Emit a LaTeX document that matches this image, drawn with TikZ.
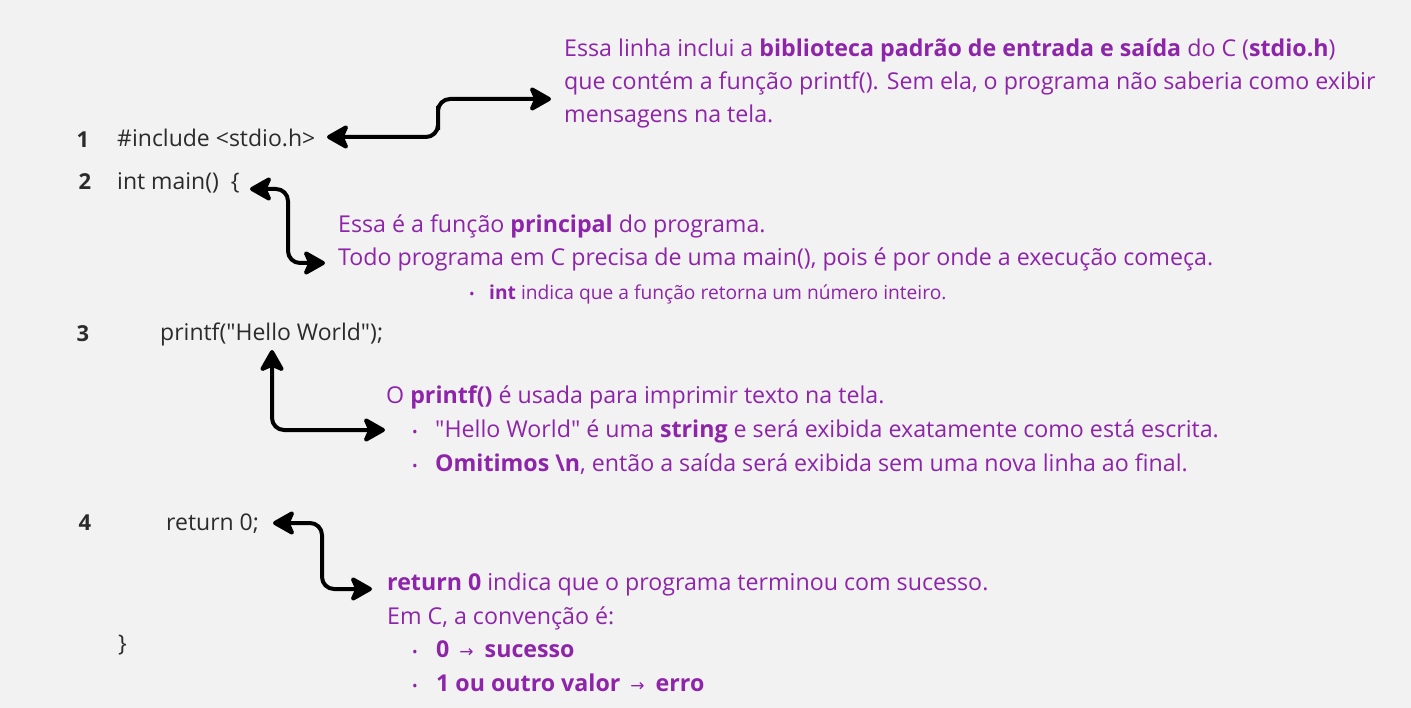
\documentclass[tikz,border=0pt]{standalone}
\usepackage{fontspec}
\setmainfont{Open Sans}[Ligatures=TeXOff]
\newfontfamily\symf{DejaVu Sans}
\usetikzlibrary{arrows.meta}
\definecolor{bg}{HTML}{F2F2F2}
\definecolor{pur}{HTML}{8E24AA}
\definecolor{codec}{HTML}{2B2B2B}
\newcommand{\rarr}{\hspace{4pt}{\symf\fontsize{17}{19}\selectfont\mdseries →}\hspace{5pt}}
\begin{document}
\begin{tikzpicture}[x=1pt,y=-1pt,
  num/.style={font=\bfseries\fontsize{22}{26}\selectfont, text=codec, anchor=base, inner sep=0pt},
  codetxt/.style={font=\fontsize{23}{27}\selectfont, text=codec, anchor=base west, inner sep=0pt},
  note/.style={font=\fontsize{23.2}{27}\selectfont, text=pur, anchor=base west, inner sep=0pt},
  small/.style={font=\fontsize{19.2}{22}\selectfont, text=pur, anchor=base west, inner sep=0pt},
  bul/.style={font=\fontsize{15}{17}\selectfont, text=pur, anchor=base, inner sep=0pt},
  arr/.style={line width=4pt, rounded corners=12pt, line cap=round,
    {Stealth[length=25pt,width=28pt,inset=6pt,round]}-{Stealth[length=25pt,width=28pt,inset=6pt,round]}}
]
\fill[bg] (0,0) rectangle (1411,708);
\useasboundingbox (0,0) rectangle (1411,708);

% code lines
\node[num] (n1) at (83,148) {1};
\node[codetxt] (c1) at (117,147) {\#include <stdio.h>};
\node[num] (n2) at (85,190) {2};
\node[codetxt] (c2) at (117,190) {int main()\ \ \{};
\node[num] (n3) at (83,342) {3};
\node[codetxt] (c3) at (160,341) {printf("Hello World");};
\node[num] (n4) at (85,530) {4};
\node[codetxt] (c4) at (166,530) {return 0;};
\node[codetxt] (c5) at (118,651) {\}};

% block 1
\node[note] (t1a) at (564,57) {Essa linha inclui a \textbf{biblioteca padrão de entrada e saída} do C (\textbf{stdio.h})};
\node[note] (t1b) at (564,90) {que contém a função printf(). Sem ela, o programa não saberia como exibir};
\node[note] (t1c) at (564,123) {mensagens na tela.};

% block 2
\node[note] (t2a) at (338,233) {Essa é a função \textbf{principal} do programa.};
\node[note] (t2b) at (338,266) {Todo programa em C precisa de uma main(), pois é por onde a execução começa.};
\node[bul] (b2) at (472,300) {•};
\node[small] (t2c) at (489,300) {\textbf{int} indica que a função retorna um número inteiro.};

% block 3
\node[note] (t3a) at (386,404) {O \textbf{printf()} é usada para imprimir texto na tela.};
\node[bul] (b3a) at (415,438) {•};
\node[note] (t3b) at (435,438) {"Hello World" é uma \textbf{string} e será exibida exatamente como está escrita.};
\node[bul] (b3b) at (415,471) {•};
\node[note] (t3c) at (435,471) {\textbf{Omitimos \textbackslash n}, então a saída será exibida sem uma nova linha ao final.};

% block 4
\node[note] (t4a) at (387,590) {\textbf{return 0} indica que o programa terminou com sucesso.};
\node[note] (t4b) at (387,624) {Em C, a convenção é:};
\node[bul] (b4a) at (415,657) {•};
\node[note] (t4c) at (436,657) {\textbf{0 \rarr{} sucesso}};
\node[bul] (b4b) at (415,691) {•};
\node[note] (t4d) at (436,691) {\textbf{1 ou outro valor \rarr{} erro}};

% connector end points
\coordinate (a1s) at (327,137);
\coordinate (k1) at (438,118);
\coordinate (a1e) at (551,99);
\coordinate (a2s) at (250,189);
\coordinate (k2) at (288,226);
\coordinate (a2e) at (325,263);
\coordinate (a3s) at (272,350);
\coordinate (a3e) at (385,430);
\coordinate (a4s) at (273,523);
\coordinate (k4) at (322,556);
\coordinate (a4e) at (372,589);

\draw[arr] (a1s) -| (k1) |- (a1e);
\draw[arr] (a2s) -| (k2) |- (a2e);
\draw[arr] (a3s) |- (a3e);
\draw[arr] (a4s) -| (k4) |- (a4e);
\end{tikzpicture}
\end{document}
